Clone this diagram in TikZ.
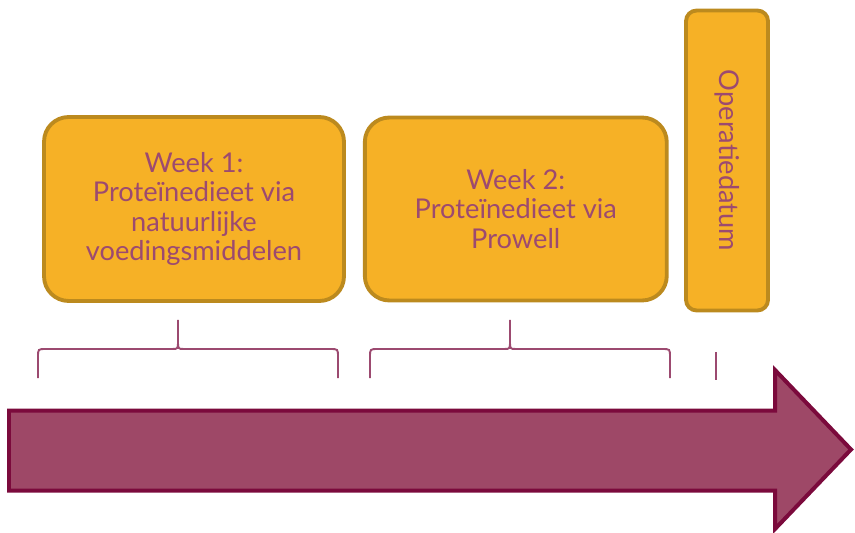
\documentclass[tikz,border=0pt]{standalone}
\usepackage{fontspec}
\setmainfont{Lato}
\usetikzlibrary{positioning}

\definecolor{boxfill}{HTML}{F6B126}
\definecolor{boxline}{HTML}{BC8A1E}
\definecolor{plum}{HTML}{9C4A70}
\definecolor{arrowfill}{HTML}{9E4867}
\definecolor{arrowline}{HTML}{7B0A3C}

\tikzset{
  week/.style={draw=boxline, fill=boxfill, line width=2.2pt, rounded corners=14pt,
    text=plum, align=center, inner sep=0pt, font=\fontsize{15.5}{16.6}\selectfont},
  brace/.style={draw=plum, line width=1.1pt},
}

\begin{document}
\begin{tikzpicture}[x=0.02cm, y=-0.02cm]
\useasboundingbox (0,0) rectangle (855,533);

% the two weeks and the day of surgery
\node[week, minimum width=6.0cm, minimum height=3.68cm] (week1) at (194,209)
  {Week 1:\\ Proteïnedieet via\\ natuurlijke\\ voedingsmiddelen};
\node[week, minimum width=6.04cm, minimum height=3.66cm, right=0.34cm of week1] (week2)
  {Week 2:\\ Proteïnedieet via\\ Prowell};
\node[week, rounded corners=6pt, rotate=-90, minimum width=6.0cm, minimum height=1.64cm] (opdatum) at (727,160.5)
  {Operatiedatum};

% braces under the weeks
\foreach \l/\m/\r in {38/178/338, 370/510/670} {
  \draw[brace] (\l,378) -- (\l,357) .. controls (\l,349) .. ({\l+8},349) -- ({\m-6},349)
    .. controls (\m,349) .. (\m,341) -- (\m,320);
  \draw[brace] (\r,378) -- (\r,357) .. controls (\r,349) .. ({\r-8},349) -- ({\m+6},349)
    .. controls (\m,349) .. (\m,341);
}
\draw[brace] (716,352) -- (716,380);

% time axis
\draw[draw=arrowline, fill=arrowfill, line width=0.08cm]
  (9,410.5) -- (775,410.5) -- (775,370) -- (851,449.5) -- (775,529) -- (775,490.5) -- (9,490.5) -- cycle;
\end{tikzpicture}
\end{document}
